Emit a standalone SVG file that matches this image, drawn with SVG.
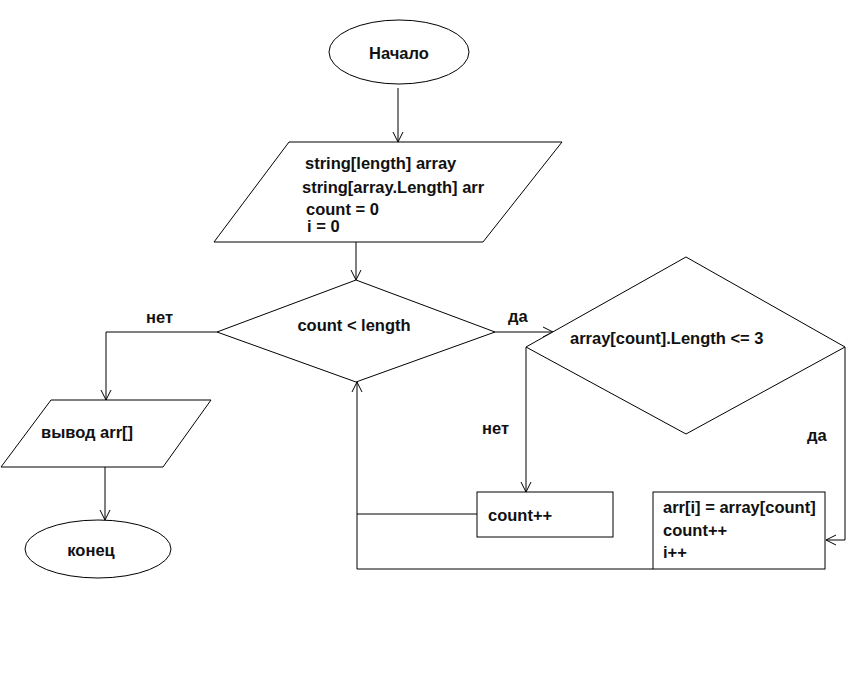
<svg xmlns="http://www.w3.org/2000/svg" width="864" height="682" viewBox="0 0 864 682">
  <defs>
    <marker id="arrow" markerUnits="userSpaceOnUse" markerWidth="12" markerHeight="12" refX="11" refY="6" orient="auto">
      <path d="M1,1 L11,6 L1,11" fill="none" stroke="#000" stroke-width="1"/>
    </marker>
  </defs>
  <style>
    .shape { fill: #fff; stroke: #000; stroke-width: 1; }
    .line { fill: none; stroke: #000; stroke-width: 1; }
    .arrow { fill: none; stroke: #000; stroke-width: 1; marker-end: url(#arrow); }
    text { font-family: "Liberation Sans", Arial, sans-serif; font-weight: bold; font-size: 16.5px; fill: #111; }
  </style>
  <rect width="864" height="682" fill="#fff"/>

  <!-- connectors -->
  <g id="connectors">
    <path class="arrow" d="M398,88 V142"/>
    <path class="arrow" d="M356,242 V280"/>
    <!-- yes: to inner condition -->
    <path class="arrow" d="M495,332 H553"/>
    <text x="508" y="322">да</text>
    <!-- no: to output -->
    <path class="arrow" d="M217,332 H106 V400"/>
    <text x="146" y="323">нет</text>
    <path class="arrow" d="M105,467 V520"/>
    <!-- inner condition branches -->
    <path class="arrow" d="M526,347 V492"/>
    <text x="482" y="434">нет</text>
    <path class="arrow" d="M845,347 V540 H826"/>
    <text x="807" y="441">да</text>
    <!-- loop back -->
    <path class="line" d="M477,514 H357"/>
    <path class="arrow" d="M653,569 H357 V382"/>
  </g>

  <g id="start">
    <ellipse class="shape" cx="399" cy="52" rx="70" ry="32"/>
    <text x="399" y="59" text-anchor="middle">Начало</text>
  </g>

  <g id="init">
    <polygon class="shape" points="289,142 562,142 483,242 214,242"/>
    <text x="305" y="169">string[length] array</text>
    <text x="302" y="193">string[array.Length] arr</text>
    <text x="306" y="215">count = 0</text>
    <text x="307" y="232">i = 0</text>
  </g>

  <g id="loop-cond">
    <polygon class="shape" points="356,280 495,332 356,382 217,332"/>
    <text x="354" y="331" text-anchor="middle">count &lt; length</text>
  </g>

  <g id="len-cond">
    <polygon class="shape" points="686,257 845,347 686,434 526,347"/>
    <text x="570" y="344">array[count].Length &lt;= 3</text>
  </g>

  <g id="inc-count">
    <rect class="shape" x="477" y="492" width="136" height="45"/>
    <text x="488" y="521">count++</text>
  </g>

  <g id="copy">
    <rect class="shape" x="653" y="492" width="172" height="77"/>
    <text x="663" y="513">arr[i] = array[count]</text>
    <text x="663" y="536">count++</text>
    <text x="663" y="558">i++</text>
  </g>

  <g id="output">
    <polygon class="shape" points="51,400 211,400 163,467 1,467"/>
    <text x="41" y="438">вывод arr[]</text>
  </g>

  <g id="end">
    <ellipse class="shape" cx="98" cy="549" rx="73" ry="29"/>
    <text x="91" y="556" text-anchor="middle">конец</text>
  </g>
</svg>
